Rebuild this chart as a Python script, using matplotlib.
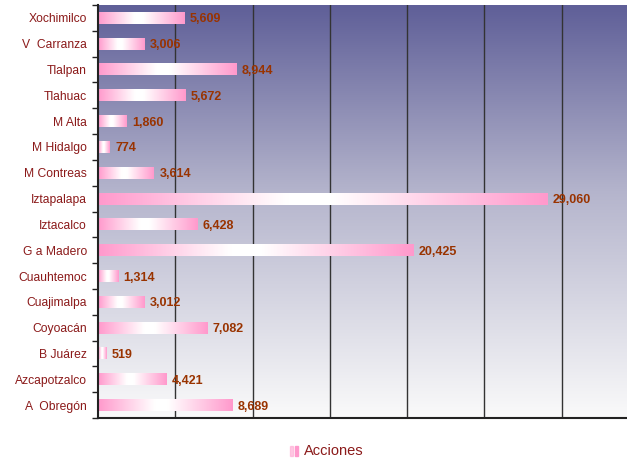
import numpy as np
import matplotlib
matplotlib.use("Agg")
import matplotlib.pyplot as plt
from matplotlib.colors import LinearSegmentedColormap
from matplotlib.patches import Rectangle

plt.rcParams['font.family'] = ['Liberation Sans', 'DejaVu Sans']

delegaciones = ["Xochimilco", "V  Carranza", "Tlalpan", "Tlahuac", "M Alta", "M Hidalgo",
                "M Contreas", "Iztapalapa", "Iztacalco", "G a Madero", "Cuauhtemoc",
                "Cuajimalpa", "Coyoacán", "B Juárez", "Azcapotzalco", "A  Obregón"]
acciones = [5609, 3006, 8944, 5672, 1860, 774, 3614, 29060, 6428, 20425, 1314,
            3012, 7082, 519, 4421, 8689]

pink = "#ff99cc"
label_col = "#8b1a1a"
value_col = "#993300"

bar_cmap = LinearSegmentedColormap.from_list(
    "bar", [(0, pink), (0.42, "#ffffff"), (0.52, "#ffffff"), (1, pink)])
bg_cmap = LinearSegmentedColormap.from_list(
    "bg", [(0, "#5f5f98"), (0.45, "#b4b4cc"), (1, "#fafafa")])

fig = plt.figure(figsize=(6.27, 4.62), dpi=100)
ax = fig.add_axes([98/627, 1-418/462, 541/627, 413/462])

n = len(delegaciones)
xmax = 35000

# background gradient
grad = np.linspace(0, 1, 256).reshape(-1, 1)
ax.imshow(grad, aspect="auto", cmap=bg_cmap, extent=[0, xmax, n - 0.5, -0.5],
          zorder=0)

for x in range(5000, xmax, 5000):
    ax.axvline(x, color="#333333", lw=1.0, zorder=1)

h = 0.46
hgrad = np.linspace(0, 1, 256).reshape(1, -1)
for i, (name, v) in enumerate(zip(delegaciones, acciones)):
    ax.imshow(hgrad, aspect="auto", cmap=bar_cmap,
              extent=[0, v, i + h/2, i - h/2], zorder=2)
    ax.text(v + 350, i, f"{v:,}", color=value_col, fontsize=9, fontweight="bold",
            va="center_baseline", ha="left", zorder=3)

ax.set_xlim(0, xmax)
ax.set_ylim(n - 0.5, -0.5)

ax.set_yticks(range(n))
ax.set_yticklabels(delegaciones, color=label_col, fontsize=8.7)
ax.set_yticks(np.arange(-0.5, n, 1), minor=True)
ax.tick_params(axis="y", which="major", length=0, pad=8)
ax.tick_params(axis="y", which="minor", length=4, width=1, color="#222222")
ax.set_xticks([])
for s in ["top", "right"]:
    ax.spines[s].set_visible(False)
for s in ["left", "bottom"]:
    ax.spines[s].set_linewidth(1.5)
    ax.spines[s].set_color("#222222")

# legend
leg_x = 304/627
leg_y = 1 - 451/462
fig.patches.append(Rectangle((290/627, leg_y - 0.011), 3/627, 0.022,
                             transform=fig.transFigure, color=pink, alpha=0.5))
fig.patches.append(Rectangle((295/627, leg_y - 0.011), 3/627, 0.022,
                             transform=fig.transFigure, color=pink))
fig.text(leg_x, leg_y, "Acciones", color=label_col, fontsize=10.5,
         va="center", ha="left")

fig.savefig("out.png", dpi=100)
